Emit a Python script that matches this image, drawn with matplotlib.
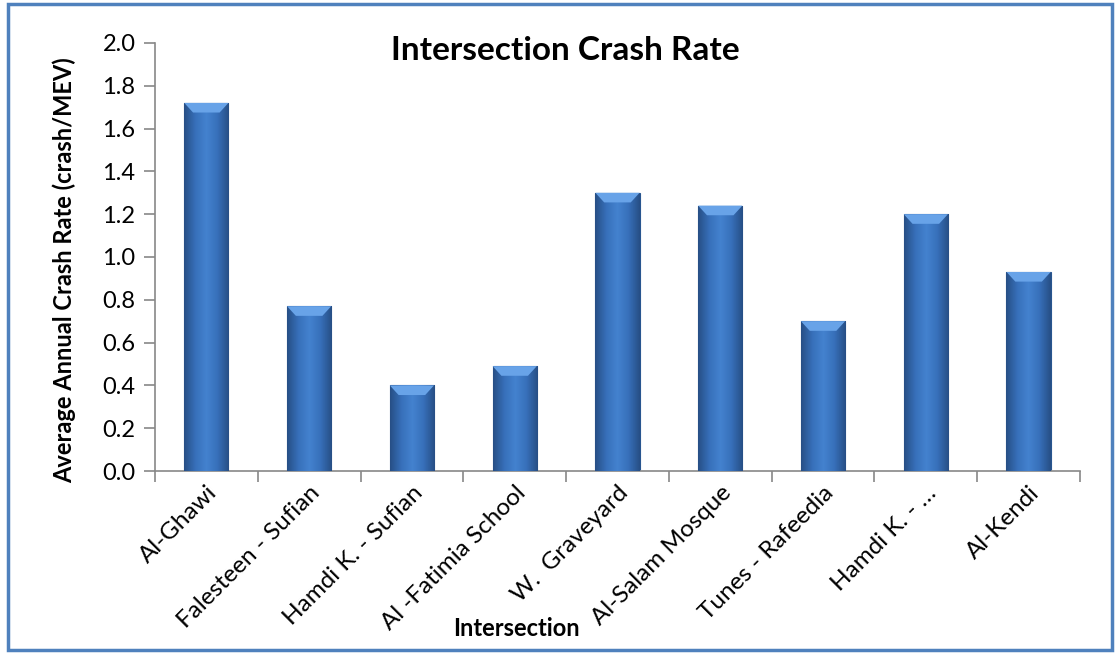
import numpy as np
import matplotlib.pyplot as plt
from matplotlib.patches import Rectangle
from matplotlib.colors import LinearSegmentedColormap
import matplotlib.transforms as mtransforms

plt.rcParams['font.family'] = ['Lato', 'DejaVu Sans']

intersections = ['Al-Ghawi', 'Falesteen - Sufian', 'Hamdi K. - Sufian', 'Al -Fatimia School',
                 'W.  Graveyard', 'Al-Salam Mosque', 'Tunes - Rafeedia', 'Hamdi K. - …', 'Al-Kendi']
crash_rate = [1.72, 0.77, 0.40, 0.49, 1.30, 1.24, 0.70, 1.20, 0.93]
yticks = [0.0, 0.2, 0.4, 0.6, 0.8, 1.0, 1.2, 1.4, 1.6, 1.8, 2.0]

fig = plt.figure(figsize=(11.18, 6.53), dpi=100)
ax = fig.add_axes([0.1386, 0.2787, 0.8274, 0.6555])

# blue frame round the whole chart
fig.patches.append(Rectangle((0.007, 0.004), 0.988, 0.99, transform=fig.transFigure,
                             fill=False, edgecolor='#4F81BD', linewidth=2.5))

x = np.arange(len(intersections))
bars = ax.bar(x, crash_rate, width=0.43, color='#3A70B8', edgecolor='#28558F', linewidth=0.8, zorder=2)

# horizontal shading to mimic the bevelled Excel bars
cmap = LinearSegmentedColormap.from_list('bev', ['#274F86', '#3770BA', '#4482CF', '#3770BA', '#274F86'])
grad = np.linspace(0, 1, 64).reshape(1, -1)
for b in bars:
    x0, w, h = b.get_x(), b.get_width(), b.get_height()
    im = ax.imshow(grad, cmap=cmap, aspect='auto', extent=(x0, x0 + w, 0, h), zorder=3)
    im.set_clip_path(b)
    cap = 0.045
    ax.fill([x0, x0 + w, x0 + w * 0.8, x0 + w * 0.2], [h, h, h - cap, h - cap],
            color='#68A3E8', zorder=4, lw=0)

ax.set_xlim(-0.5, len(intersections) - 0.5)
ax.set_ylim(0, 2.0)
ax.set_yticks(yticks)
ax.set_yticklabels([f'{v:.1f}' for v in yticks], fontsize=17)
ax.set_xticks(x)
ax.set_xticklabels(intersections, rotation=45, ha='right', rotation_mode='anchor', fontsize=17.5)
offset = mtransforms.ScaledTranslation(0.18, 0.0, fig.dpi_scale_trans)
for lab in ax.get_xticklabels():
    lab.set_transform(lab.get_transform() + offset)
ax.tick_params(axis='x', length=0, pad=8)
ax.set_xticks(np.arange(-0.5, len(intersections)), minor=True)
ax.tick_params(axis='x', which='minor', length=8, color='#888888', width=1.2)
ax.tick_params(axis='y', length=8, color='#888888', width=1.2, pad=6)

for s in ['top', 'right']:
    ax.spines[s].set_visible(False)
for s in ['left', 'bottom']:
    ax.spines[s].set_color('#888888')
    ax.spines[s].set_linewidth(1.2)

ax.set_ylabel('Average Annual Crash Rate (crash/MEV)', fontsize=17, fontweight='bold')
ax.yaxis.set_label_coords(-0.085, 0.47)
fig.text(0.462, 0.038, 'Intersection', fontsize=17, fontweight='bold', ha='center', va='center')
fig.text(0.506, 0.923, 'Intersection Crash Rate', fontsize=24, fontweight='bold', ha='center', va='center')

fig.savefig('out.png', dpi=100)
